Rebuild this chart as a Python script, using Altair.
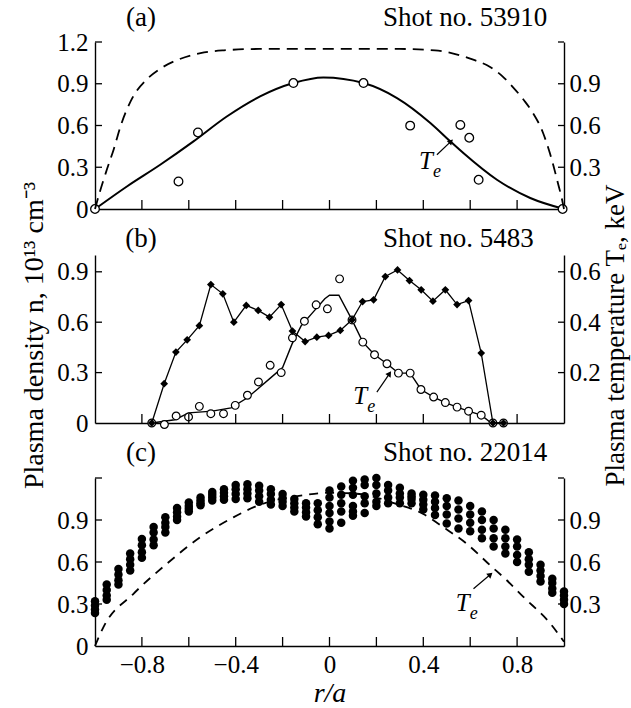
import altair as alt
import pandas as pd

SERIF = "Liberation Serif"

# ---------------- Panel (a): shot 53910 ----------------
a_dens_r = [-1.0, -0.98, -0.95, -0.92, -0.89, -0.84, -0.78, -0.72, -0.65, -0.55, -0.45, -0.30, 0.0,
            0.30, 0.45, 0.52, 0.60, 0.685, 0.74, 0.78, 0.83, 0.86, 0.91, 0.94, 0.955, 0.975, 0.99, 1.0]
a_dens_n = [0.0, 0.12, 0.28, 0.43, 0.60, 0.80, 0.93, 1.01, 1.07, 1.12, 1.14, 1.15, 1.15,
            1.15, 1.14, 1.12, 1.08, 1.02, 0.95, 0.88, 0.78, 0.71, 0.55, 0.40, 0.31, 0.18, 0.08, 0.0]
a_te_line_r = [-1.0, -0.864, -0.722, -0.58, -0.438, -0.296, -0.154, -0.026, 0.145, 0.288, 0.43,
               0.515, 0.572, 0.714, 0.856, 1.0]
a_te_line = [0.0, 0.162, 0.318, 0.486, 0.665, 0.809, 0.905, 0.945, 0.905, 0.797, 0.618,
             0.486, 0.40, 0.21, 0.079, 0.0]
a_te_pts_r = [-1.0, -0.644, -0.561, -0.154, 0.145, 0.344, 0.558, 0.596, 0.636, 0.994]
a_te_pts = [0.0, 0.198, 0.55, 0.905, 0.905, 0.599, 0.604, 0.512, 0.21, 0.0]

# ---------------- Panel (b): shot 5483 ----------------
b_dens_r = [-0.758, -0.705, -0.655, -0.607, -0.555, -0.506, -0.455, -0.408, -0.355, -0.304, -0.256,
            -0.206, -0.158, -0.104, -0.054, -0.004, 0.046, 0.096, 0.141, 0.188, 0.238, 0.29, 0.341,
            0.391, 0.441, 0.494, 0.544, 0.593, 0.647, 0.697, 0.742]
b_dens_n = [0.0, 0.234, 0.422, 0.495, 0.579, 0.824, 0.769, 0.60, 0.70, 0.67, 0.63,
            0.705, 0.547, 0.485, 0.511, 0.521, 0.551, 0.614, 0.723, 0.733, 0.872, 0.911, 0.848,
            0.793, 0.725, 0.793, 0.705, 0.729, 0.416, 0.0, 0.0]
b_te_pts_r = [-0.758, -0.704, -0.654, -0.601, -0.555, -0.506, -0.452, -0.402, -0.35, -0.303, -0.253,
              -0.206, -0.158, -0.107, -0.057, -0.009, 0.043, 0.096, 0.142, 0.192, 0.245, 0.294,
              0.344, 0.39, 0.444, 0.494, 0.544, 0.593, 0.647, 0.697, 0.742]
b_te_pts = [0.0, -0.006, 0.028, 0.024, 0.066, 0.037, 0.037, 0.07, 0.11, 0.163, 0.229,
            0.20, 0.338, 0.404, 0.469, 0.453, 0.572, 0.409, 0.321, 0.271, 0.235, 0.198,
            0.198, 0.133, 0.103, 0.081, 0.063, 0.047, 0.031, 0.0, 0.0]
b_te_line_r = [-0.758, -0.66, -0.6, -0.5, -0.42, -0.35, -0.3, -0.25, -0.2, -0.16, -0.12, -0.07,
               -0.02, 0.0, 0.04, 0.096, 0.142, 0.192, 0.245, 0.294, 0.344, 0.39, 0.444, 0.494,
               0.544, 0.593, 0.647, 0.69, 0.742]
b_te_line = [0.0, 0.013, 0.04, 0.047, 0.06, 0.1, 0.14, 0.18, 0.22, 0.313, 0.387, 0.44,
             0.493, 0.507, 0.507, 0.409, 0.321, 0.271, 0.235, 0.198, 0.198, 0.133, 0.103, 0.081,
             0.063, 0.047, 0.031, 0.0, 0.0]

# ---------------- Panel (c): shot 22014 ----------------
c_cols_r = [-1.0, -0.95, -0.9, -0.85, -0.8, -0.75, -0.7, -0.65, -0.6, -0.55, -0.5, -0.45, -0.4,
            -0.35, -0.3, -0.25, -0.2, -0.15, -0.1, -0.05, 0.0, 0.05, 0.1, 0.15, 0.2, 0.25, 0.3,
            0.35, 0.4, 0.45, 0.5, 0.55, 0.6, 0.65, 0.7, 0.75, 0.8, 0.85, 0.9, 0.95, 1.0]
c_cols_n = [
    [0.32, 0.29, 0.26, 0.235], [0.44, 0.40, 0.36, 0.33], [0.55, 0.51, 0.47, 0.44],
    [0.66, 0.62, 0.58, 0.54], [0.765, 0.72, 0.67, 0.63], [0.85, 0.81, 0.76, 0.72],
    [0.92, 0.88, 0.85, 0.81], [0.985, 0.955, 0.925, 0.90], [1.025, 1.0, 0.98, 0.96],
    [1.06, 1.04, 1.02, 1.005], [1.10, 1.08, 1.06, 1.04], [1.12, 1.095, 1.07, 1.045],
    [1.15, 1.12, 1.085, 1.05], [1.155, 1.12, 1.09, 1.055], [1.145, 1.11, 1.07, 1.03],
    [1.12, 1.085, 1.045, 1.01], [1.085, 1.055, 1.03, 1.0], [1.05, 1.02, 0.99, 0.96],
    [1.02, 0.99, 0.955, 0.925], [1.02, 0.97, 0.92, 0.87],
    [1.11, 1.06, 1.0, 0.95, 0.89, 0.84], [1.14, 1.08, 1.02, 0.96, 0.88],
    [1.18, 1.13, 1.08, 1.0, 0.96, 0.93], [1.19, 1.15, 1.07, 1.02, 0.95],
    [1.20, 1.15, 1.09, 1.03, 1.0], [1.15, 1.11, 1.06, 1.02], [1.13, 1.09, 1.06, 1.02],
    [1.09, 1.07, 1.05, 1.02], [1.08, 1.045, 1.01, 0.975], [1.075, 1.03, 0.985, 0.935],
    [1.055, 1.0, 0.94, 0.875], [1.04, 0.975, 0.91, 0.84], [1.0, 0.94, 0.88, 0.82],
    [0.96, 0.90, 0.83, 0.77], [0.90, 0.84, 0.77, 0.71], [0.83, 0.77, 0.71, 0.66],
    [0.76, 0.71, 0.65, 0.60], [0.67, 0.62, 0.58, 0.53], [0.58, 0.54, 0.50, 0.46],
    [0.48, 0.45, 0.41, 0.38], [0.39, 0.36, 0.33, 0.30],
]
c_te_r = [-1.0, -0.964, -0.836, -0.694, -0.552, -0.41, -0.31, -0.21, -0.1, 0.0, 0.1, 0.2, 0.288,
          0.40, 0.486, 0.586, 0.686, 0.757, 0.828, 0.942, 1.0]
c_te = [0.0, 0.135, 0.373, 0.587, 0.776, 0.919, 1.0, 1.05, 1.08, 1.095, 1.09, 1.06, 1.014,
        0.943, 0.848, 0.729, 0.575, 0.468, 0.349, 0.16, 0.03]

# ---------------- axes ----------------
x_ticks = [-0.8, -0.6, -0.4, -0.2, 0.0, 0.2, 0.4, 0.6, 0.8]
x_labels = [-0.8, -0.4, 0.0, 0.4, 0.8]

W = 469
HA, HB, HC = 167, 168, 168
SP = 20
GAP1, GAP2 = 6, 15

xs = alt.Scale(domain=[-1, 1], nice=False, zero=False)


def X(labels):
    if labels:
        ax = alt.Axis(values=x_labels, format=".1~f", ticks=False, grid=False, domain=True,
                      labelPadding=6, title="r/a", titleFontStyle="italic", titlePadding=2)
    else:
        ax = alt.Axis(labels=False, ticks=False, grid=False, domain=True, title=None)
    return alt.X("r:Q", scale=xs, axis=ax)


def YN(dmax, vals, title=False):
    kw = dict(orient="left", values=vals, format=".1~f", labelPadding=7, ticks=False, grid=False)
    if title:
        kw.update(title="Plasma density n, 10¹³ cm⁻³", titleX=-53, titleY=80, titleAngle=270,
                  titleBaseline="alphabetic", titleAlign="center")
    else:
        kw["title"] = None
    return alt.Y("n:Q", scale=alt.Scale(domain=[0, dmax], nice=False, zero=False), axis=alt.Axis(**kw))


def YT(dmax, vals, title=False):
    kw = dict(orient="right", values=vals, format=".1~f", labelPadding=5, ticks=False, grid=False)
    if title:
        kw.update(title="Plasma temperature Tₑ, keV", titleX=59, titleY=80, titleAngle=270,
                  titleBaseline="alphabetic", titleAlign="center", titleFontSize=27)
    else:
        kw["title"] = None
    return alt.Y("te:Q", scale=alt.Scale(domain=[0, dmax], nice=False, zero=False), axis=alt.Axis(**kw))


one = pd.DataFrame({"k": [0]})


def decorations(H, xe, ye, ytick_vals, letter, shot, ty, te_pos, arrow, ang):
    layers = []
    layers.append(alt.Chart(pd.DataFrame({"r": x_ticks})).mark_rule(color="black", strokeWidth=1.3)
                  .encode(x=xe, y=alt.value(H), y2=alt.value(H - 9)))
    layers.append(alt.Chart(pd.DataFrame({"n": ytick_vals})).mark_rule(color="black", strokeWidth=1.3)
                  .encode(y=ye, x=alt.value(0), x2=alt.value(7)))
    tdf = pd.DataFrame({"r": [te_pos[0]], "n": [te_pos[1]]})
    layers.append(alt.Chart(tdf).mark_text(text="T", fontStyle="italic", fontSize=25, align="center",
                                           baseline="middle").encode(x=xe, y=ye))
    layers.append(alt.Chart(tdf).mark_text(text="e", fontStyle="italic", fontSize=18, align="center",
                                           baseline="middle", dx=11, dy=11).encode(x=xe, y=ye))
    adf = pd.DataFrame({"r": [arrow[0]], "n": [arrow[1]], "r2": [arrow[2]], "n2": [arrow[3]]})
    layers.append(alt.Chart(adf).mark_rule(color="black", strokeWidth=1.2)
                  .encode(x=xe, y=ye, x2="r2:Q", y2="n2:Q"))
    hdf = pd.DataFrame({"r": [arrow[2]], "n": [arrow[3]]})
    layers.append(alt.Chart(hdf).mark_point(shape="triangle-up", filled=True, color="black", size=40,
                                            angle=ang, opacity=1).encode(x=xe, y=ye))
    layers.append(alt.Chart(one).mark_text(text=letter, fontSize=27, align="center", baseline="alphabetic")
                  .encode(x=alt.value(46), y=alt.value(ty)))
    layers.append(alt.Chart(one).mark_text(text=shot, fontSize=27, align="left", baseline="alphabetic")
                  .encode(x=alt.value(288), y=alt.value(ty)))
    return layers


def right_ticks(ye, vals):
    return alt.Chart(pd.DataFrame({"te": vals})).mark_rule(color="black", strokeWidth=1.3).encode(
        y=ye, x=alt.value(W - 6), x2=alt.value(W))


# ----- panel a -----
xa = X(False)
yna = YN(1.2, [0, 0.3, 0.6, 0.9, 1.2])
yta = YT(1.2, [0.3, 0.6, 0.9])
te_a = alt.layer(
    alt.Chart(pd.DataFrame({"r": a_te_line_r, "te": a_te_line})).mark_line(
        color="black", strokeWidth=2, interpolate="monotone").encode(x=xa, y=yta),
    alt.Chart(pd.DataFrame({"r": a_te_pts_r, "te": a_te_pts})).mark_point(
        shape="circle", filled=True, fill="white", stroke="black", strokeWidth=1.3, size=75, opacity=1
    ).encode(x=xa, y=yta),
    right_ticks(yta, [0.3, 0.6, 0.9, 1.2]),
)
dens_a = alt.layer(
    alt.Chart(pd.DataFrame({"r": a_dens_r, "n": a_dens_n})).mark_line(
        color="black", strokeWidth=1.8, strokeDash=[11, 7], interpolate="monotone").encode(x=xa, y=yna),
    *decorations(HA, xa, yna, [0.3, 0.6, 0.9, 1.2], "(a)", "Shot no. 53910", -16,
                 (0.411, 0.342), (0.458, 0.39, 0.518, 0.486), 46),
)
panel_a = alt.layer(te_a, dens_a).resolve_scale(y="independent").properties(width=W, height=HA)

# ----- panel b -----
xb = X(False)
ynb = YN(1.0, [0, 0.3, 0.6, 0.9], title=True)
ytb = YT(2 / 3, [0.2, 0.4, 0.6], title=True)
te_b = alt.layer(
    alt.Chart(pd.DataFrame({"r": b_te_line_r, "te": b_te_line})).mark_line(
        color="black", strokeWidth=1.4).encode(x=xb, y=ytb),
    alt.Chart(pd.DataFrame({"r": b_te_pts_r, "te": b_te_pts})).mark_point(
        shape="circle", filled=True, fill="white", stroke="black", strokeWidth=1.2, size=60, opacity=1
    ).encode(x=xb, y=ytb),
    right_ticks(ytb, [0.2, 0.4, 0.6]),
)
dens_b = alt.layer(
    alt.Chart(pd.DataFrame({"r": b_dens_r, "n": b_dens_n})).mark_line(
        color="black", strokeWidth=1.3).encode(x=xb, y=ynb),
    alt.Chart(pd.DataFrame({"r": b_dens_r, "n": b_dens_n})).mark_point(
        shape="diamond", filled=True, color="black", size=60, opacity=1).encode(x=xb, y=ynb),
    *decorations(HB, xb, ynb, [0.3, 0.6, 0.9], "(b)", "Shot no. 5483", -8,
                 (0.131, 0.16), (0.202, 0.184, 0.256, 0.294), 34),
)
panel_b = alt.layer(te_b, dens_b).resolve_scale(y="independent").properties(width=W, height=HB)

# ----- panel c -----
xc = X(True)
ync = YN(1.2, [0, 0.3, 0.6, 0.9])
ytc = YT(1.2, [0.3, 0.6, 0.9])
dots = pd.DataFrame([{"r": r, "n": v} for r, col in zip(c_cols_r, c_cols_n) for v in col])
te_c = alt.layer(
    alt.Chart(pd.DataFrame({"r": c_te_r, "te": c_te})).mark_line(
        color="black", strokeWidth=1.8, strokeDash=[9, 7], interpolate="monotone").encode(x=xc, y=ytc),
    right_ticks(ytc, [0.3, 0.6, 0.9, 1.2]),
)
dens_c = alt.layer(
    alt.Chart(dots).mark_point(shape="circle", filled=True, color="black", size=72, opacity=1).encode(
        x=xc, y=ync),
    *decorations(HC, xc, ync, [0.3, 0.6, 0.9, 1.2], "(c)", "Shot no. 22014", -17,
                 (0.568, 0.308), (0.614, 0.409, 0.686, 0.511), 49),
)
panel_c = alt.layer(te_c, dens_c).resolve_scale(y="independent").properties(width=W, height=HC)


def spacer(h):
    return alt.Chart(one).mark_point(opacity=0).encode(x=alt.value(0), y=alt.value(0)).properties(
        width=W, height=h)


# With autosize "none" the concat's width signal is the panel width and its height signal is 0,
# so the padding carries the rest of the 631x708 canvas.
chart = alt.vconcat(panel_a, spacer(GAP1), panel_b, spacer(GAP2), panel_c, spacing=SP,
                    bounds="flush").properties(
    autosize=alt.AutoSizeParams(type="none"),
    padding={"left": 95, "top": 42, "right": 631 - 95 - W, "bottom": 708 - 42},
).configure_view(stroke=None).configure_axis(
    labelFont=SERIF, labelFontSize=25, labelColor="black",
    titleFont=SERIF, titleFontSize=28, titleColor="black", titleFontWeight="normal",
    domainColor="black", domainWidth=1.4,
).configure_text(font=SERIF, color="black")

chart.save("out.html", embed_options={"renderer": "svg", "actions": False})
